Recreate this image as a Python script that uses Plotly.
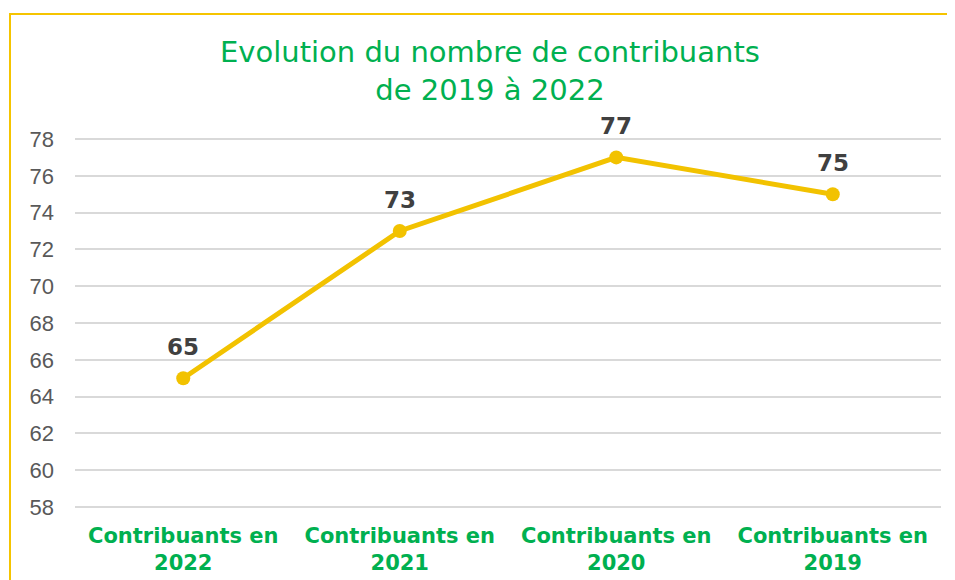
import plotly.graph_objects as go

categories = ["Contribuants en<br>2022", "Contribuants en<br>2021", "Contribuants en<br>2020", "Contribuants en<br>2019"]
values = [65, 73, 77, 75]
tick_vals = [58, 60, 62, 64, 66, 68, 70, 72, 74, 76, 78]

# page body has 8px default margin -> shift everything by 8
OFF = 8
EXT = 3  # extra px above/below so edge gridlines are drawn
W, H = 955 - OFF, 580 - OFF
L, R, T, B = 75 - OFF, 14, 139 - OFF - EXT, 73 - EXT
pw, ph = W - L - R, H - T - B
upp = 20 / 368.0  # y units per pixel

fig = go.Figure()
fig.add_trace(go.Scatter(
    x=list(range(len(categories))), y=values,
    mode="lines+markers",
    line=dict(color="#F2C200", width=5),
    marker=dict(color="#F2C200", size=14),
    cliponaxis=False,
    showlegend=False,
))

annotations = [dict(
    text="Evolution du nombre de contribuants<br>de 2019 à 2022",
    x=(490 - 75) / pw, y=1 + (139 - EXT - 71) / ph,
    xref="paper", yref="paper", xanchor="center", yanchor="middle",
    showarrow=False,
    font=dict(family="DejaVu Sans", size=29, color="#00B050"),
)]
for i, v in enumerate(values):
    annotations.append(dict(
        x=i, y=v, xref="x", yref="y", text=f"<b>{v}</b>",
        showarrow=False, yshift=31, xanchor="center", yanchor="middle",
        font=dict(family="DejaVu Sans", size=23, color="#404040"),
    ))

fig.update_layout(
    width=W, height=H,
    margin=dict(l=L, r=R, t=T, b=B, autoexpand=False),
    paper_bgcolor="white", plot_bgcolor="white",
    xaxis=dict(
        range=[-0.5, 3.5],
        tickmode="array",
        tickvals=list(range(len(categories))),
        ticktext=[f"<b>{c}</b>" for c in categories],
        tickfont=dict(family="DejaVu Sans", size=21, color="#00B050"),
        showgrid=False, zeroline=False, showline=False, ticks="",
        ticklabelstandoff=11, automargin=False,
    ),
    yaxis=dict(
        range=[58 - EXT * upp, 78 + EXT * upp],
        tickmode="array",
        tickvals=tick_vals,
        tickfont=dict(family="Liberation Sans", size=22, color="#595959"),
        showgrid=True, gridcolor="#D9D9D9", gridwidth=1.5,
        zeroline=False, showline=False, ticks="", ticklabelstandoff=20,
        automargin=False,
    ),
    annotations=annotations,
    shapes=[dict(
        type="rect", xref="paper", yref="paper",
        x0=(10 - 75) / pw, x1=1.2, y0=-0.5, y1=1 + (139 - EXT - 14) / ph,
        line=dict(color="#F5C400", width=2),
    )],
)

fig.write_html("out.html")
